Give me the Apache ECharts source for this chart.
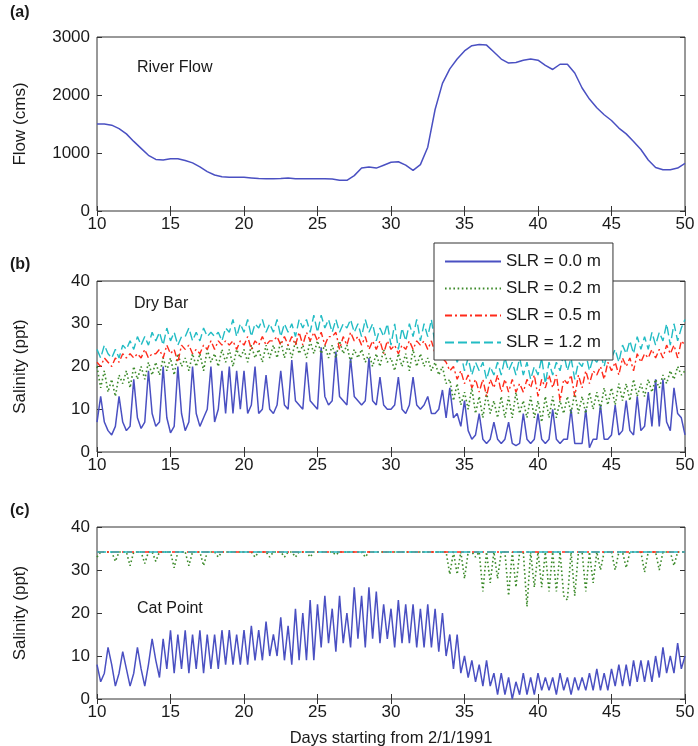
<!DOCTYPE html>
<html>
<head>
<meta charset="utf-8">
<script src="https://cdn.jsdelivr.net/npm/echarts@6.0.0/dist/echarts.min.js"></script>
<style>html,body{margin:0;padding:0;background:#fff}#c{width:698px;height:746px}</style>
</head>
<body>
<div id="c"></div>
<script>
// ---- sampling grids (day numbers) ----
const DAY_START = 10;
const FLOW_STEP = 0.5;     // river flow sampled every half day
const SAL_STEP = 0.25;     // salinity sampled every quarter day
const FLAT_STEP = 1;       // Cat Point high-SLR series sampled daily

const X_TICKS = [10, 15, 20, 25, 30, 35, 40, 45, 50];
const FLOW_TICKS = [0, 1000, 2000, 3000];
const SAL_TICKS = [0, 10, 20, 30, 40];
const SERIES_NAMES = ['SLR = 0.0 m', 'SLR = 0.2 m', 'SLR = 0.5 m', 'SLR = 1.2 m'];

// (a) River flow, cms
const FLOW = [
  1500,1500,1480,1420,1330,1200,1080,960,890,880,
  900,900,870,830,760,680,620,590,580,580,
  580,570,560,555,555,560,570,555,555,555,
  555,555,550,530,530,610,740,760,740,790,
  840,850,790,700,800,1100,1750,2200,2450,2620,
  2760,2850,2870,2860,2740,2620,2550,2560,2600,2620,
  2600,2510,2440,2530,2530,2380,2120,1930,1780,1660,
  1560,1430,1330,1200,1060,880,750,710,710,740,
  820
];

// (b) Dry Bar salinity, ppt
const DRYBAR_SLR00 = [
  7,13,7,5, 4,6,13,7, 5,6,17,8, 5.5,7,19,9, 6,7,20,8,
  4.5,6,20,9, 5,7,20,9, 6,8,10,20, 7,10,19,9, 20,9,19,10,
  19,9,11,20, 9,10,18,10, 9,11,19,11, 10,21.5,12,11, 10,21,12,11,
  10,24.5,13,11, 12,23.5,13,12, 11,22,13,12, 11,12,22,12, 11,17.5,11,10,
  10,11,17.5,10, 9,11,17.5,11, 10,11,13,9, 9,10,14.5,8, 15,8,9,6,
  12,5,3,4, 9,3,2,3, 7,3,2,3, 7,2,1.5,2, 9,3,2,3,
  9,3,2,3, 10,3,2,3, 3,10,2,2, 2,10,1,3, 3,11,3,3,
  4,11,4,5, 12,5,4,13, 5,6,14,6, 17,6,17,7, 5,15,9,8,
  4
];
const DRYBAR_SLR02 = [
  20,15,19,14, 17,13,18,16, 19,15,20,17, 20,17,21,18, 21,18,22,19,
  22,18,23,20, 22,19,23,20, 23,19,24,21, 23,20,24,21, 24,20,24,22,
  24,21,25,22, 24,21,25,22, 25,22,26,22, 25,22,26,23, 25,22,26,23,
  26,23,25,22, 25,22,26,23, 25,21,24,22, 24,21,23,20, 23,20,24,21,
  22,19,23,20, 23,19,24,20, 23,20,22,19, 21,18,20,16, 17,12,16,11,
  14,10,15,9, 13,8,14,9, 12,8,13,8, 13,8,14,9, 12,8,13,8,
  12,7,13,8, 13,8,12,9, 13,9,14,9, 13,9,14,10, 14,10,15,11,
  15,11,16,12, 16,12,17,13, 16,13,17,14, 17,15,18,16, 19,17,20,18,
  19
];
const DRYBAR_SLR05 = [
  21,20,22,21, 20,22,21,23, 22,23,22,23, 22,24,22,23, 23,24,22,25,
  23,24,21,25, 24,25,23,24, 23,25,24,26, 24,26,25,26, 25,26,24,26,
  25,27,24,26, 25,27,25,26, 26,27,25,27, 25,27,25,28, 25,28,26,28,
  26,28,25,27, 27,28,24,27, 25,28,26,27, 25,27,24,26, 24,26,23,26,
  24,25,23,25, 24,26,24,26, 25,26,24,26, 23,24,22,21, 19,20,17,19,
  16,18,15,17, 14,17,13,17, 15,18,14,17, 14,17,14,16, 14,17,15,18,
  13,17,15,18, 15,18,12,17, 16,18,13,18, 15,19,16,19, 18,20,17,21,
  19,21,18,22, 20,22,19,23, 21,23,22,24, 22,24,22,25, 23,25,22,26,
  25
];
const DRYBAR_SLR12 = [
  24,22,25,23, 22,24,22,25, 24,26,24,27, 25,27,25,28, 26,28,25,29,
  26,28,25,27, 27,29,26,28, 26,29,27,28, 27,28,26,29, 28,31,27,30,
  28,31,27,30, 29,31,28,30, 28,31,27,30, 28,30,27,31, 29,31,28,32,
  28,32,29,31, 28,31,28,30, 29,31,28,30, 27,31,28,30, 26,29,27,30,
  25,30,24,29, 26,30,27,31, 26,30,27,31, 25,27,24,26, 22,24,21,23,
  19,22,18,21, 19,21,17,20, 18,21,18,22, 19,21,18,22, 18,21,17,20,
  18,22,16,21, 18,21,19,23, 19,22,17,21, 20,23,19,22, 21,23,20,24,
  22,24,21,25, 23,26,23,27, 24,27,24,28, 25,28,26,30, 25,30,26,29,
  31
];

// (c) Cat Point salinity, ppt
const CATPOINT_SLR00 = [
  8,4,6,12, 8,3,6,11, 7,3,6,12, 7,3,8,14, 9,5,14,7,
  16,6,15,7, 16,6,15,7, 16,6,15,7, 15,7,16,8, 16,8,15,8,
  16,8,17,9, 16,9,18,10, 15,10,19,9, 17,8,21,9, 20,9,23,9,
  22,12,24,13, 21,11,24,13, 20,12,26,14, 24,12,26,14, 25,13,22,14,
  21,12,23,13, 22,13,22,12, 21,12,22,12, 21,11,20,10, 15,7,15,6,
  10,5,9,4, 8,3,9,3, 6,1,6,1, 5,0,4,1, 6,1,5,1,
  6,2,5,2, 5,1,6,2, 5,1,5,2, 5,2,6,2, 7,2,6,2,
  7,3,8,3, 8,3,9,4, 9,4,9,4, 10,5,12,6, 10,6,13,7,
  10
];
const CATPOINT_SLR02 = [
  33,34.2,34.2,34.2, 34.2,32,34.2,34.2, 34.2,31,34.2,34.2, 34.2,31.5,34.2,34.2, 32,34.2,34.2,34.2,
  34.2,30.5,34.2,34.2, 34.2,31,34.2,34.2, 34.2,31,34.2,34.2, 34.2,33,34.2,34.2, 34.2,34.2,34.2,34.2,
  34.2,34.2,34.2,33, 34.2,34.2,34.2,33, 34.2,34.2,34.2,33, 34.2,34.2,33,34.2, 34.2,34.2,33,34.2,
  34.2,34.2,34.2,34.2, 34.2,33.5,34.2,34.2, 34.2,34.2,34.2,34.2, 34.2,33,34.2,34.2, 34.2,34.2,34.2,34.2,
  34.2,34.2,34.2,34.2, 34.2,34.2,34.2,34.2, 34.2,34.2,34.2,34.2, 34.2,34.2,34.2,34.2, 29,34.2,29,34.2,
  28,34.2,34.2,33, 34.2,25,34.2,27, 34.2,28,34.2,34.2, 24,34.2,26,34.2, 34.2,21.5,34.2,26,
  34.2,26,34.2,25, 34.2,25,34.2,24, 23,34.2,24,34.2, 34.2,25,34.2,27, 34.2,30,34.2,34.2,
  34.2,30,34.2,34.2, 30.5,34.2,34.2,34.2, 34.2,29.5,34.2,34.2, 34.2,30,34.2,34.2, 34.2,31,34.2,34.2,
  34.2
];
const CATPOINT_SLR05 = [
  34.2,34.2,34.2,34.2,34.2,34.2,34.2,34.2,34.2,34.2,
  34.2,34.2,34.2,34.2,34.2,34.2,34.2,34.2,34.2,34.2,
  34.2,34.2,34.2,34.2,34.2,34.2,34.2,34.2,34.2,34.2,
  34.2,34.2,34.2,34.2,34.2,34.2,34.2,34.2,34.2,34.2,
  34.2
];
const CATPOINT_SLR12 = [
  34.2,34.2,34.2,34.2,34.2,34.2,34.2,34.2,34.2,34.2,
  34.2,34.2,34.2,34.2,34.2,34.2,34.2,34.2,34.2,34.2,
  34.2,34.2,34.2,34.2,34.2,34.2,34.2,34.2,34.2,34.2,
  34.2,34.2,34.2,34.2,34.2,34.2,34.2,34.2,34.2,34.2,
  34.2
];

// ---- build ----
function pairs(vals, step) { return vals.map((v, i) => [DAY_START + i * step, v]); }

const FONT = 'Liberation Sans, Arial, Helvetica, sans-serif';
const TXT = '#1a1a1a';
const COLORS = ['#4a50c2', '#3c8a2a', '#ff2a1a', '#22bcc4'];
const STYLES = [
  { type: 'solid', width: 1.5 },
  { type: [1.6, 2.6], width: 1.6 },
  { type: [7, 3, 2, 3], width: 1.4 },
  { type: [9, 4], width: 1.4 }
];

const grids = [
  { left: 97, right: 13, top: 37, height: 174 },
  { left: 97, right: 13, top: 281, height: 171 },
  { left: 97, right: 13, top: 527, height: 172 }
].map(g => Object.assign(g, { show: true, borderColor: '#333', borderWidth: 1, backgroundColor: '#fff', containLabel: false, outerBoundsMode: 'none' }));

const plain = v => String(v);
const xAxes = [], yAxes = [];
for (let g = 0; g < 3; g++) {
  const base = { type: 'value', gridIndex: g, min: X_TICKS[0], max: X_TICKS[X_TICKS.length - 1], interval: X_TICKS[1] - X_TICKS[0],
    axisLine: { show: false }, splitLine: { show: false }, axisTick: { inside: true, length: 5, lineStyle: { color: '#333' } } };
  xAxes.push(Object.assign({}, base, { position: 'bottom',
    axisLabel: { color: TXT, fontSize: 17, fontFamily: FONT, margin: 5, formatter: plain },
    name: g === 2 ? 'Days starting from 2/1/1991' : '', nameLocation: 'middle', nameGap: 31,
    nameTextStyle: { color: TXT, fontSize: 16.5, fontFamily: FONT } }));
  xAxes.push(Object.assign({}, base, { position: 'top', axisLabel: { show: false } }));
  const ticks = g === 0 ? FLOW_TICKS : SAL_TICKS;
  const ybase = { type: 'value', gridIndex: g, min: ticks[0], max: ticks[ticks.length - 1], interval: ticks[1] - ticks[0],
    axisLine: { show: false }, splitLine: { show: false }, axisTick: { inside: true, length: 5, lineStyle: { color: '#333' } } };
  yAxes.push(Object.assign({}, ybase, { position: 'left',
    axisLabel: { color: TXT, fontSize: 17, fontFamily: FONT, margin: 7, formatter: plain },
    name: g === 0 ? 'Flow (cms)' : 'Salinity (ppt)', nameLocation: 'middle', nameRotate: 90, nameGap: 68,
    nameTextStyle: { color: TXT, fontSize: 17, fontFamily: FONT } }));
  yAxes.push(Object.assign({}, ybase, { position: 'right', axisLabel: { show: false } }));
}

function line(name, data, idx, grid, z) {
  return { type: 'line', name: name, xAxisIndex: grid * 2, yAxisIndex: grid * 2, data: data,
    showSymbol: false, symbol: 'none', silent: true, z: z,
    lineStyle: Object.assign({ color: COLORS[idx] }, STYLES[idx]), itemStyle: { color: COLORS[idx] } };
}

const series = [
  line('River Flow', pairs(FLOW, FLOW_STEP), 0, 0, 2),
  line(SERIES_NAMES[0], pairs(DRYBAR_SLR00, SAL_STEP), 0, 1, 2),
  line(SERIES_NAMES[1], pairs(DRYBAR_SLR02, SAL_STEP), 1, 1, 3),
  line(SERIES_NAMES[2], pairs(DRYBAR_SLR05, SAL_STEP), 2, 1, 4),
  line(SERIES_NAMES[3], pairs(DRYBAR_SLR12, SAL_STEP), 3, 1, 5),
  line(SERIES_NAMES[0], pairs(CATPOINT_SLR00, SAL_STEP), 0, 2, 2),
  line(SERIES_NAMES[1], pairs(CATPOINT_SLR02, SAL_STEP), 1, 2, 3),
  line(SERIES_NAMES[2], pairs(CATPOINT_SLR05, FLAT_STEP), 2, 2, 4),
  line(SERIES_NAMES[3], pairs(CATPOINT_SLR12, FLAT_STEP), 3, 2, 5)
];

function txt(x, y, s, size, bold) {
  return { type: 'text', left: x, top: y, z: 50,
    style: { text: s, fill: TXT, font: (bold ? 'bold ' : '') + size + 'px ' + FONT } };
}

const option = {
  animation: false,
  backgroundColor: '#fff',
  grid: grids,
  xAxis: xAxes,
  yAxis: yAxes,
  legend: {
    data: SERIES_NAMES, selectedMode: false, orient: 'vertical', left: 434, top: 243, z: 20,
    backgroundColor: '#fff', borderColor: '#333', borderWidth: 1, borderRadius: 0,
    padding: [10, 12, 9, 10], itemWidth: 56, itemHeight: 2, itemGap: 10,
    itemStyle: { opacity: 0 },
    textStyle: { color: TXT, fontSize: 17, fontFamily: FONT, lineHeight: 17 }
  },
  series: series,
  graphic: [
    txt(10, 5, '(a)', 16, true),
    txt(10, 257, '(b)', 16, true),
    txt(10, 503, '(c)', 16, true),
    txt(137, 60, 'River Flow', 16, false),
    txt(134, 296, 'Dry Bar', 16, false),
    txt(137, 601, 'Cat Point', 16, false)
  ]
};

const chart = echarts.init(document.getElementById('c'), null, { renderer: 'canvas' });
chart.setOption(option);
</script>
</body>
</html>
